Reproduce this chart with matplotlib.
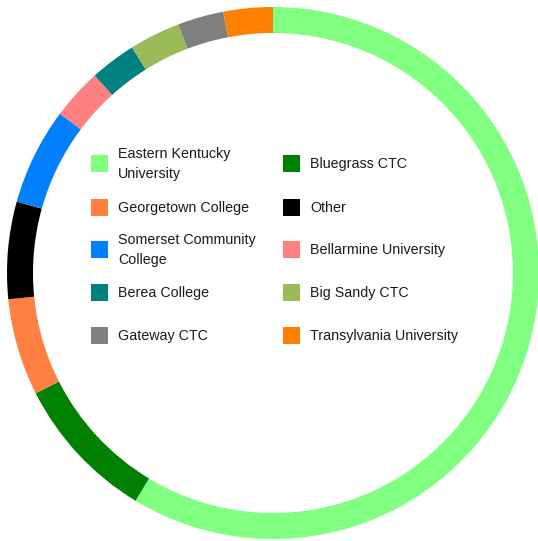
import matplotlib.pyplot as plt
from matplotlib.patches import Rectangle

colleges = ["Eastern Kentucky\nUniversity", "Bluegrass CTC", "Georgetown College", "Other",
            "Somerset Community\nCollege", "Bellarmine University", "Berea College",
            "Big Sandy CTC", "Gateway CTC", "Transylvania University"]
shares = [58.7, 8.9, 5.9, 5.9, 5.9, 3.1, 2.8, 3.1, 2.8, 3.0]
colors = ["#80FF80", "#008000", "#FF8040", "#000000", "#0080FF",
          "#FF8080", "#008080", "#9BBB59", "#808080", "#FF8000"]

W, H = 538, 541
fig = plt.figure(figsize=(W / 100, H / 100), dpi=100)
ax = fig.add_axes([0, 0, 1, 1])

# work in pixel units, y up
ax.pie(shares, colors=colors, startangle=90, counterclock=False,
       center=(273, H - 273), radius=266, frame=False,
       wedgeprops=dict(width=26, linewidth=0))
ax.set_xlim(0, W)
ax.set_ylim(0, H)
ax.set_aspect("equal")
ax.axis("off")

# legend: two columns, filled row by row
col_x = [91, 283]
row_y = [163, 207, 249, 292, 335]
for i, (lab, c) in enumerate(zip(colleges, colors)):
    x = col_x[i % 2]
    y = H - row_y[i // 2]
    ax.add_patch(Rectangle((x, y - 8.5), 17, 17, facecolor=c, edgecolor="none"))
    ax.text(x + 27, y - 1, lab, ha="left", va="center", fontsize=10.3,
            family="Liberation Sans", color="#1a1a1a", linespacing=1.6)

plt.savefig("out.png", dpi=100)
